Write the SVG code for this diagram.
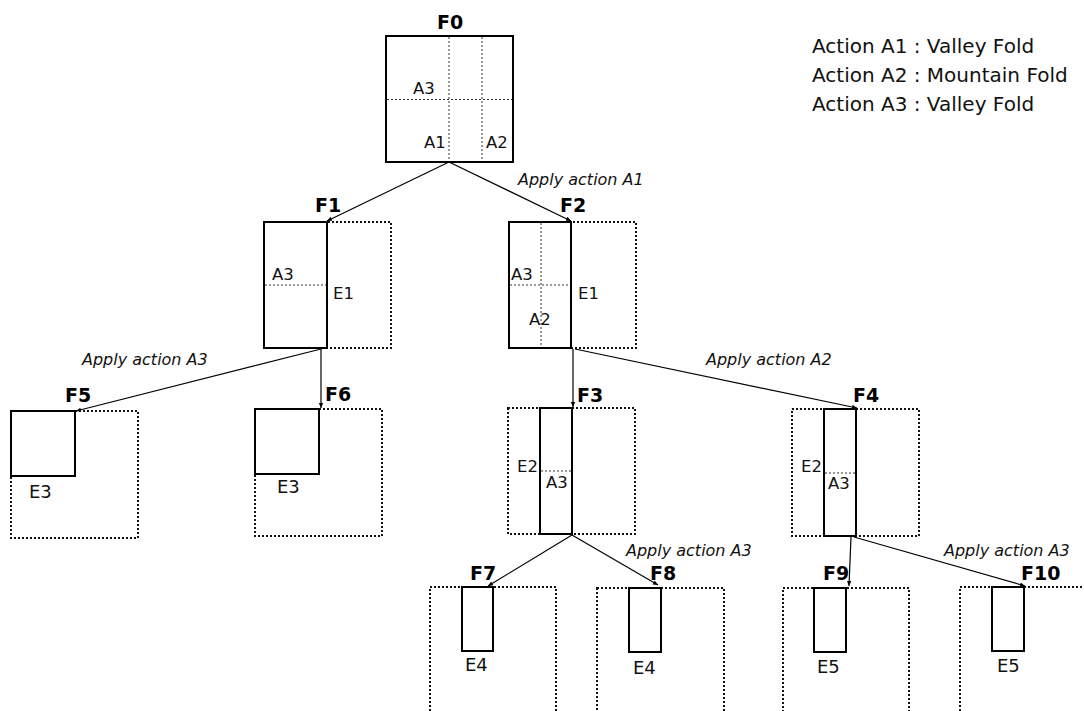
<svg xmlns="http://www.w3.org/2000/svg" width="1084" height="711" viewBox="0 0 1084 711">
<defs>
<style>
.sheet{fill:none;stroke:#000;stroke-width:2}
.ghost{fill:none;stroke:#111;stroke-width:2;stroke-dasharray:2 2}
.fold{fill:none;stroke:#333;stroke-width:1;stroke-dasharray:2 2}
.conn{fill:none;stroke:#000;stroke-width:1.2}
.t{font-family:"DejaVu Sans",Verdana,sans-serif;fill:#111;font-size:16.5px}
.e{font-family:"DejaVu Sans",Verdana,sans-serif;fill:#111;font-size:18px}
.lbl{font-family:"DejaVu Sans",Verdana,sans-serif;fill:#000;font-size:19px;font-weight:bold}
.act{font-family:"DejaVu Sans",Verdana,sans-serif;fill:#111;font-size:16px;font-style:italic}
.leg{font-family:"DejaVu Sans",Verdana,sans-serif;fill:#111;font-size:20px}
</style>
<marker id="arr" markerUnits="userSpaceOnUse" markerWidth="6" markerHeight="6" refX="5" refY="3" orient="auto">
<path d="M0,0.8 L5,3 L0,5.2 Z" fill="#000"/>
</marker>
</defs>
<rect width="1084" height="711" fill="#fff"/>

<g id="legend">
<text class="leg" x="812" y="53">Action A1 : Valley Fold</text>
<text class="leg" x="812" y="82">Action A2 : Mountain Fold</text>
<text class="leg" x="812" y="111">Action A3 : Valley Fold</text>
</g>

<g id="connectors">
<line class="conn" x1="449" y1="162" x2="327" y2="221" marker-end="url(#arr)"/>
<line class="conn" x1="449" y1="162" x2="571" y2="221" marker-end="url(#arr)"/>
<line class="conn" x1="321" y1="349" x2="76" y2="411" marker-end="url(#arr)"/>
<line class="conn" x1="321" y1="349" x2="321" y2="408" marker-end="url(#arr)"/>
<line class="conn" x1="573" y1="349" x2="573" y2="407" marker-end="url(#arr)"/>
<line class="conn" x1="575" y1="349" x2="857" y2="408" marker-end="url(#arr)"/>
<line class="conn" x1="572" y1="535" x2="488" y2="586" marker-end="url(#arr)"/>
<line class="conn" x1="572" y1="535" x2="658" y2="585" marker-end="url(#arr)"/>
<line class="conn" x1="851" y1="537" x2="849" y2="586" marker-end="url(#arr)"/>
<line class="conn" x1="854" y1="537" x2="1025" y2="586" marker-end="url(#arr)"/>
<text class="act" x="518" y="185">Apply action A1</text>
<text class="act" x="82" y="365">Apply action A3</text>
<text class="act" x="706" y="365">Apply action A2</text>
<text class="act" x="626" y="556">Apply action A3</text>
<text class="act" x="944" y="556">Apply action A3</text>
</g>

<g id="F0">
<text class="lbl" x="437" y="29">F0</text>
<rect class="sheet" x="386" y="36" width="127" height="126"/>
<line class="fold" x1="449" y1="37" x2="449" y2="161"/>
<line class="fold" x1="482" y1="37" x2="482" y2="161"/>
<line class="fold" x1="387" y1="99.5" x2="512" y2="99.5"/>
<text class="t" x="413" y="94">A3</text>
<text class="t" x="424" y="148">A1</text>
<text class="t" x="486" y="148">A2</text>
</g>

<g id="F1">
<text class="lbl" x="315" y="212">F1</text>
<rect class="ghost" x="264" y="222" width="127" height="126"/>
<rect class="sheet" x="264" y="222" width="63" height="126"/>
<line class="fold" x1="265" y1="285" x2="326" y2="285"/>
<text class="t" x="272" y="280">A3</text>
<text class="t" x="333" y="299">E1</text>
</g>

<g id="F2">
<text class="lbl" x="560" y="212">F2</text>
<rect class="ghost" x="509" y="222" width="127" height="126"/>
<rect class="sheet" x="509" y="222" width="62" height="126"/>
<line class="fold" x1="541" y1="223" x2="541" y2="347"/>
<line class="fold" x1="510" y1="285" x2="570" y2="285"/>
<text class="t" x="511" y="280">A3</text>
<text class="t" x="578" y="299">E1</text>
<text class="t" x="529" y="325">A2</text>
</g>

<g id="F5">
<text class="lbl" x="65" y="402">F5</text>
<rect class="ghost" x="11" y="411" width="127" height="127"/>
<rect class="sheet" x="11" y="411" width="64" height="65"/>
<text class="e" x="29" y="498">E3</text>
</g>

<g id="F6">
<text class="lbl" x="325" y="401">F6</text>
<rect class="ghost" x="255" y="409" width="127" height="127"/>
<rect class="sheet" x="255" y="409" width="64" height="65"/>
<text class="e" x="277" y="493">E3</text>
</g>

<g id="F3">
<text class="lbl" x="577" y="402">F3</text>
<rect class="ghost" x="508" y="408" width="127" height="126"/>
<rect class="sheet" x="540" y="408" width="32" height="126"/>
<line class="fold" x1="541" y1="471" x2="571" y2="471"/>
<text class="t" x="517" y="472">E2</text>
<text class="t" x="546" y="488">A3</text>
</g>

<g id="F4">
<text class="lbl" x="853" y="402">F4</text>
<rect class="ghost" x="792" y="409" width="127" height="127"/>
<rect class="sheet" x="824" y="409" width="32" height="127"/>
<line class="fold" x1="825" y1="473" x2="855" y2="473"/>
<text class="t" x="801" y="472">E2</text>
<text class="t" x="828" y="489">A3</text>
</g>

<g id="F7">
<text class="lbl" x="470" y="580">F7</text>
<rect class="ghost" x="430" y="587" width="126" height="140"/>
<rect class="sheet" x="462" y="587" width="31" height="64"/>
<text class="e" x="465" y="671">E4</text>
</g>

<g id="F8">
<text class="lbl" x="650" y="580">F8</text>
<rect class="ghost" x="597" y="588" width="127" height="140"/>
<rect class="sheet" x="629" y="588" width="32" height="64"/>
<text class="e" x="633" y="674">E4</text>
</g>

<g id="F9">
<text class="lbl" x="823" y="580">F9</text>
<rect class="ghost" x="783" y="588" width="126" height="140"/>
<rect class="sheet" x="814" y="588" width="32" height="64"/>
<text class="e" x="817" y="673">E5</text>
</g>

<g id="F10">
<text class="lbl" x="1021" y="580">F10</text>
<rect class="ghost" x="960" y="587" width="140" height="140"/>
<rect class="sheet" x="992" y="587" width="32" height="64"/>
<text class="e" x="997" y="672">E5</text>
</g>
</svg>
